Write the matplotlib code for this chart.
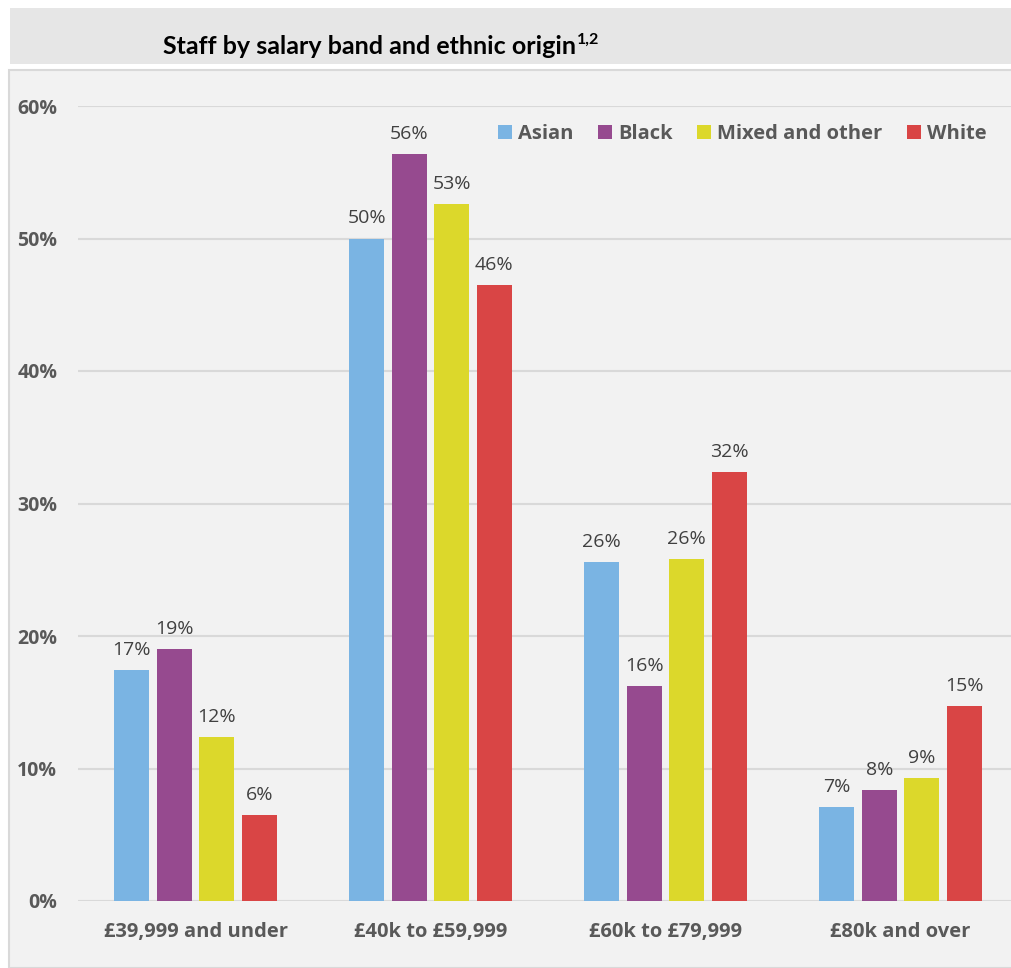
import numpy as np
import matplotlib.pyplot as plt
from matplotlib.patches import Rectangle

# Data (percent of staff)
bands = ['£39,999 and under', '£40k to £59,999', '£60k to £79,999', '£80k and over']
groups = ['Asian', 'Black', 'Mixed and other', 'White']
asian = [17.4, 50.0, 25.6, 7.1]
black = [19.0, 56.4, 16.2, 8.4]
mixed = [12.4, 52.6, 25.8, 9.3]
white = [6.5, 46.5, 32.4, 14.7]
labels_asian = ['17%', '50%', '26%', '7%']
labels_black = ['19%', '56%', '16%', '8%']
labels_mixed = ['12%', '53%', '26%', '9%']
labels_white = ['6%', '46%', '32%', '15%']

colors = ['#7ab4e3', '#964a8f', '#dcd82b', '#d94545']
text_grey = '#595959'

plt.rcParams['font.family'] = ['Open Sans', 'DejaVu Sans']

fig = plt.figure(figsize=(10.11, 9.68), dpi=100)
fig.patch.set_facecolor('white')

W, H = 1011, 968

# title banner and chart panel (behind the axes)
fig.patches.append(Rectangle((10 / W, 1 - 64 / H), 1001 / W, 56 / H, transform=fig.transFigure,
                             facecolor='#e6e6e6', edgecolor='none', zorder=-10))
fig.patches.append(Rectangle((9 / W, 0), 1010 / W, 1 - 70 / H, transform=fig.transFigure,
                             facecolor='#f2f2f2', edgecolor='#d9d9d9', linewidth=1.5, zorder=-10))
title = fig.text(163 / W, 1 - 47 / H, 'Staff by salary band and ethnic origin',
                 fontsize=18, fontweight='bold', family='Lato', color='black', va='center', ha='left')
fig.canvas.draw()
bb = title.get_window_extent()
fig.text(bb.x1 / W + 1 / W, 1 - 40 / H, '1,2', fontsize=11.5, fontweight='bold', family='Lato',
         color='black', va='center', ha='left')

ax = fig.add_axes([78 / W, 1 - 901 / H, 933 / W, (901 - 106) / H])
ax.set_facecolor('none')

x = np.arange(len(bands))
width = 0.149
step = 0.181
series = [asian, black, mixed, white]
series_labels = [labels_asian, labels_black, labels_mixed, labels_white]
for i, (vals, labs) in enumerate(zip(series, series_labels)):
    pos = x + (i - 1.5) * step
    ax.bar(pos, vals, width=width, color=colors[i], label=groups[i], zorder=3)
    for px, v, lab in zip(pos, vals, labs):
        ax.annotate(lab, (px, v), xytext=(0, 8), textcoords='offset points',
                    ha='center', va='bottom', fontsize=14, color='#404040')

ax.set_xlim(-0.5, 3.47)
ax.set_ylim(0, 60)
ax.set_yticks(np.arange(0, 61, 10))
ax.set_yticklabels([f'{t}%' for t in range(0, 61, 10)], fontsize=14, fontweight='bold', color=text_grey)
ax.set_xticks(x)
ax.set_xticklabels(bands, fontsize=14.5, fontweight='bold', color=text_grey)
ax.tick_params(axis='y', length=0, pad=15)
ax.tick_params(axis='x', length=0, pad=15)
ax.grid(axis='y', color='#d9d9d9', linewidth=1.5, zorder=0)
for s in ax.spines.values():
    s.set_visible(False)

leg = ax.legend(ncol=4, loc='upper right', bbox_to_anchor=(0.993, 1.0), frameon=False,
                handlelength=0.7, handleheight=0.7, handletextpad=0.3, columnspacing=1.2,
                prop={'weight': 'bold', 'size': 14.5})
for t in leg.get_texts():
    t.set_color(text_grey)

plt.savefig('out.png', dpi=100)
